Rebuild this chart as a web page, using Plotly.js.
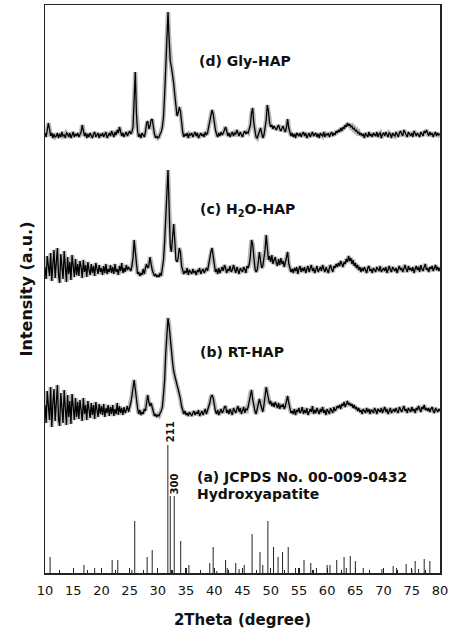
<!DOCTYPE html>
<html>
<head>
<meta charset="utf-8">
<script src="https://cdn.plot.ly/plotly-3.0.1.min.js"></script>
<style>html,body{margin:0;padding:0;background:#fff;}#chart{width:454px;height:634px;}</style>
</head>
<body>
<div id="chart"></div>
<script>
// 2θ sampling: 10.0 to 80.0 deg, 0.2 deg step (351 points)
const thetaStart = 10.0;
const thetaStep = 0.2;
const thetaCount = 351;

// (d) Gly-HAP intensity (a.u., relative to its own baseline)
const glyHAP = [
  2,-2,5,12,6,-1,2,-3,1,-2,
  -1,2,-3,1,-2,3,-1,0,-3,2,
  1,-2,2,-3,0,3,-2,1,-1,2,
  -2,1,3,10,4,-1,2,-3,1,-2,
  2,-1,-3,1,3,-2,0,2,-3,1,
  -1,2,-2,1,3,-3,0,2,-1,4,
  1,-2,3,0,5,2,8,3,-1,2,
  -2,1,3,-1,2,4,1,3,8,42,
  63,22,4,-2,1,-3,2,0,-2,3,
  12,14,6,9,15,16,7,1,-3,-1,
  -3,-2,1,3,8,18,40,72,100,123,
  95,74,68,62,52,40,26,19,22,28,
  24,10,3,-2,1,-1,2,-3,1,0,
  2,-2,1,3,-1,2,-3,0,2,-1,
  1,-2,3,0,2,8,15,22,25,21,
  12,5,1,-2,2,-1,3,0,2,5,
  8,4,-1,2,-2,1,3,-1,2,1,
  5,2,-1,3,0,-2,2,4,1,3,
  2,5,10,22,27,12,3,-2,-3,1,
  4,7,2,-3,0,6,15,30,24,12,
  8,10,6,9,7,5,8,10,6,4,
  7,9,5,3,8,16,7,1,-1,2,
  -2,1,-3,2,0,-1,2,-2,1,3,
  -1,2,-3,0,2,-2,1,3,-1,0,
  2,-2,1,-3,2,0,-1,3,-2,1,
  0,2,-2,1,3,-1,2,0,4,2,
  5,3,7,4,8,6,10,8,12,9,
  11,8,9,6,7,4,5,2,3,0,
  2,-1,1,-3,2,0,-2,3,-1,1,
  -2,2,0,-1,3,-2,1,2,-3,1,
  2,-1,3,0,-2,2,1,-3,2,0,
  -1,3,1,-2,2,4,1,-1,5,2,
  0,-2,3,1,-1,2,-2,4,1,-1,
  2,0,-2,3,1,-1,4,2,5,1,
  -1,3,0,2,-2,1,3,-1,2,0,
  1
];

// (c) H2O-HAP
const h2oHAP = [
  3,-9,14,2,-6,17,-11,6,20,-8,
  9,22,-5,-13,16,4,-9,19,-2,-12,
  13,-4,8,-10,15,2,-7,11,-5,6,
  -6,9,3,-8,10,-2,5,-7,8,0,
  -5,6,-3,4,-6,7,1,-4,5,-2,
  2,-5,4,-3,6,-4,1,-2,5,-3,
  3,-4,6,-2,1,-5,4,-1,7,-3,
  2,-2,5,0,3,1,-1,4,12,30,
  16,2,-4,-2,-6,-3,-5,1,-4,2,
  6,2,4,13,5,0,-3,-6,-4,-7,
  -5,-7,-3,-6,2,10,28,58,88,100,
  62,24,18,35,46,30,10,8,12,22,
  18,4,-2,-4,-1,-3,2,-5,0,-2,
  -4,1,-3,-1,-5,0,-2,2,-4,-1,
  1,-3,0,2,-1,6,12,18,22,14,
  6,-2,1,-4,2,-3,0,3,-1,5,
  2,-3,1,-1,4,-2,0,5,1,-3,
  3,-1,-4,2,0,-2,3,1,-3,4,
  2,6,14,30,26,8,2,-2,0,8,
  18,9,2,4,10,20,35,22,10,14,
  8,15,6,10,13,7,4,11,5,12,
  6,9,3,8,14,18,6,0,-2,1,
  -3,2,-1,3,-4,1,4,-2,2,-1,
  3,-3,0,4,-2,1,5,-1,2,-3,
  1,4,-2,0,3,-1,5,1,-2,3,
  0,-3,2,5,1,-2,4,2,6,3,
  7,4,9,5,3,8,6,11,8,14,
  9,12,6,10,4,7,2,5,0,3,
  -2,2,-1,3,0,-3,2,4,-1,1,
  -3,2,0,-2,3,1,-1,4,-2,0,
  2,-1,3,-3,1,4,0,-2,3,1,
  -1,2,-3,1,4,0,2,-2,3,5,
  1,-2,4,0,2,-1,3,-3,1,4,
  0,3,-2,5,1,-1,3,6,0,2,
  -2,3,1,4,-1,2,5,0,3,-1,
  2
];

// (b) RT-HAP
const rtHAP = [
  6,-12,20,3,-9,24,-16,8,22,-10,
  14,26,-8,-15,18,2,-12,21,-4,-14,
  16,-6,10,-13,17,1,-9,13,-6,9,
  -8,11,2,-10,13,-3,6,-9,10,-1,
  -7,8,-4,6,-8,9,0,-6,7,-3,
  5,-4,7,-6,3,-2,6,-5,4,-3,
  6,-5,2,-3,8,-4,5,-2,3,-4,
  4,-2,1,5,-1,3,8,15,26,31,
  22,10,3,-3,1,-4,-1,-3,2,0,
  10,16,9,5,8,3,-2,-5,-3,-6,
  -4,-5,-2,0,4,14,30,58,80,93,
  85,71,58,49,40,34,30,26,22,18,
  12,5,-1,-3,0,-4,-2,-5,-1,-3,
  -5,-2,0,-4,-1,-3,1,-5,-2,0,
  -4,-1,2,-3,0,3,8,14,16,13,
  6,0,-3,1,-4,-1,2,-2,0,4,
  5,-2,1,-3,2,-1,-4,3,0,-2,
  2,5,-1,3,-3,0,4,-2,2,1,
  4,10,18,21,12,4,0,-3,3,6,
  12,7,2,-1,6,14,24,18,10,7,
  10,5,8,4,9,6,3,8,2,6,
  4,7,2,5,10,15,8,2,-2,0,
  -3,2,-4,1,-1,3,-2,0,4,-3,
  1,-2,3,-4,0,2,-1,5,-3,1,
  -2,3,0,-3,2,-1,4,-2,1,-4,
  2,0,-3,3,1,-2,4,0,2,5,
  3,6,2,7,5,9,4,8,10,6,
  8,5,7,3,6,2,4,0,3,-1,
  1,-3,2,0,-2,3,-1,2,-3,1,
  0,-2,3,1,-3,2,0,-1,3,-2,
  1,4,-1,2,-3,0,3,-2,1,2,
  -1,3,0,-2,4,1,-1,2,5,0,
  2,-2,3,1,-1,4,0,2,-2,3,
  1,5,2,-1,4,2,6,1,3,0,
  3,-1,2,4,0,-2,3,1,-1,2,
  0
];

// (a) JCPDS No. 00-009-0432 reference lines: positions (2θ) and intensities
const jcpdsPos = [10.9,16.9,18.8,21.9,22.9,25.4,25.9,28.1,29.0,31.77,32.2,32.9,34.05,35.5,
  39.2,39.8,40.45,42.0,42.3,43.8,44.4,45.3,46.7,48.1,48.6,49.5,50.5,51.3,52.1,53.1,54.4,
  55.9,57.1,58.1,60.0,60.5,61.7,63.0,63.4,64.1,65.0,66.4,69.7,71.7,72.3,74.0,75.0,75.6,
  76.2,77.2,78.2];
const jcpdsInt = [16,8,5,13,13,3,52,16,23,128,77,77,32,8,
  10,26,2,13,5,10,4,8,39,21,8,52,26,16,21,26,5,
  13,10,5,8,8,13,16,5,17,12,5,4,7,5,9,4,12,
  4,14,12];

// Vertical stacking offsets (same units as intensity)
const offsets = {rt: 162, h2o: 303, gly: 438};

const twoTheta = [];
for (let i = 0; i < thetaCount; i++) twoTheta.push(+(thetaStart + thetaStep * i).toFixed(2));

const halo = {color: 'rgba(0,0,0,0.28)', width: 4.5};
const core = {color: '#000', width: 1.3};
const traces = [];
[[rtHAP, offsets.rt], [h2oHAP, offsets.h2o], [glyHAP, offsets.gly]].forEach(([vals, off]) => {
  const y = vals.map(v => v + off);
  traces.push({x: twoTheta, y: y, mode: 'lines', line: halo, hoverinfo: 'skip'});
  traces.push({x: twoTheta, y: y, mode: 'lines', line: core, hoverinfo: 'skip'});
});
const sx = [], sy = [];
jcpdsPos.forEach((p, i) => { sx.push(p, p, null); sy.push(0, jcpdsInt[i], null); });
traces.push({x: sx, y: sy, mode: 'lines', line: {color: '#222', width: 1}, hoverinfo: 'skip'});

const F = 'DejaVu Sans, Arial, sans-serif';
const lab = (x, y, t, size, extra) => Object.assign({
  xref: 'paper', yref: 'paper', x: x, y: y, text: t, showarrow: false,
  xanchor: 'left', yanchor: 'middle', font: {family: F, size: size, color: '#111'}
}, extra || {});

const layout = {
  width: 454, height: 634,
  margin: {l: 45, r: 14, t: 5, b: 61},
  paper_bgcolor: '#fff', plot_bgcolor: '#fff',
  showlegend: false,
  xaxis: {
    range: [10, 80], tick0: 10, dtick: 5, ticks: 'inside', ticklen: 5, tickwidth: 1.2,
    tickcolor: '#222', showline: true, mirror: true, linecolor: '#222', linewidth: 1.5,
    showgrid: false, zeroline: false, ticklabelstandoff: 5,
    tickfont: {family: F, size: 13, color: '#111'},
    minor: {dtick: 2.5, ticks: 'inside', ticklen: 3, tickcolor: '#222', showgrid: false},
    title: {text: '<b>2Theta (degree)</b>', font: {family: F, size: 15, color: '#111'}, standoff: 17}
  },
  yaxis: {
    range: [0, 568], showticklabels: false, ticks: '', showline: true, mirror: true,
    linecolor: '#222', linewidth: 1.5, showgrid: false, zeroline: false,
    title: {text: '<b>Intensity (a.u.)</b>', font: {family: F, size: 16, color: '#111'}, standoff: 7}
  },
  annotations: [
    lab(0.385, 0.901, '<b>(d) Gly-HAP</b>', 14),
    lab(0.387, 0.639, '<b>(c) H<sub>2</sub>O-HAP</b>', 14),
    lab(0.387, 0.3896, '<b>(b) RT-HAP</b>', 14),
    lab(0.380, 0.1695, '<b>(a) JCPDS No. 00-009-0432</b>', 14),
    lab(0.380, 0.139, '<b>Hydroxyapatite</b>', 14),
    lab(0.3165, 0.248, '<b>211</b>', 10, {xanchor: 'center', textangle: -90}),
    lab(0.328, 0.157, '<b>300</b>', 10, {xanchor: 'center', textangle: -90})
  ]
};

Plotly.newPlot('chart', traces, layout, {staticPlot: true, displayModeBar: false});
</script>
</body>
</html>
